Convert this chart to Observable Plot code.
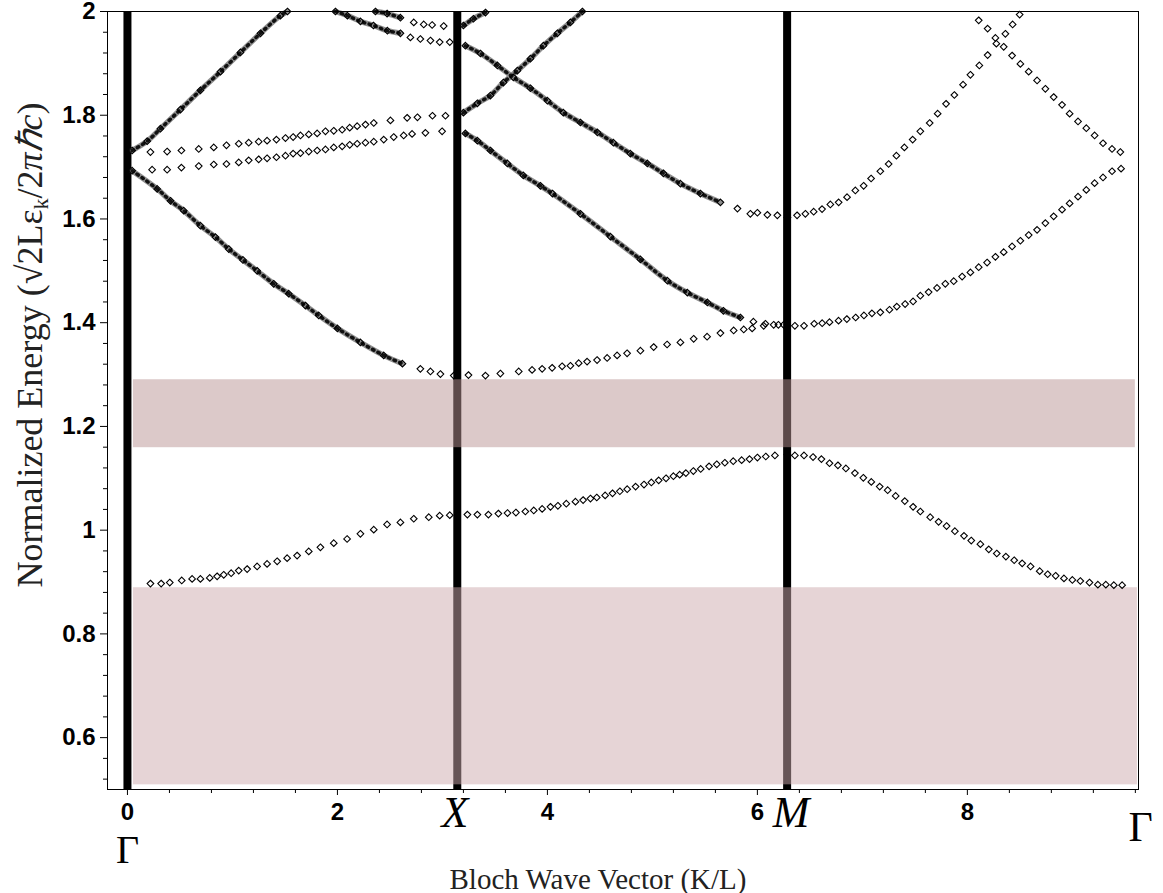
<!DOCTYPE html>
<html><head><meta charset="utf-8">
<script src="https://cdn.jsdelivr.net/npm/d3@7"></script>
<script src="https://cdn.jsdelivr.net/npm/@observablehq/plot@0.6"></script>
<style>body{margin:0;background:#fff} svg{display:block}</style>
</head><body><div id="chart"></div>
<script>
// ---- data: [k, normalized energy] ----
// Gamma - X
const gxRise = [[0.045,1.732],[0.188,1.750],[0.314,1.774],[0.505,1.811],[0.695,1.848],[0.886,1.884],[1.076,1.921],[1.267,1.958],[1.457,1.992],[1.524,2.0]];
const gxDesc = [[0.045,1.693],[0.283,1.658],[0.410,1.635],[0.536,1.616],[0.695,1.587],[0.838,1.565],[0.965,1.542],[1.10,1.521],[1.235,1.500],[1.393,1.475],[1.536,1.456],[1.695,1.433],[1.822,1.414],[2.0,1.389],[2.219,1.362],[2.441,1.337],[2.619,1.321],[2.790,1.311],[2.886,1.306],[2.981,1.301],[3.108,1.298]];
const gxTopA = [[1.981,2.0],[2.095,1.992],[2.219,1.981],[2.343,1.973],[2.476,1.963],[2.6,1.958],[2.695,1.950],[2.790,1.947],[2.886,1.944],[2.974,1.941],[3.070,1.941]];
const gxTopB = [[2.362,2.0],[2.473,1.996],[2.6,1.988],[2.727,1.979],[2.822,1.975],[2.902,1.974],[3.012,1.972]];
const gxFlatA = [[0.219,1.729],[0.378,1.730],[0.514,1.732],[0.679,1.735],[0.822,1.738],[0.943,1.742],[1.060,1.745],[1.155,1.747],[1.250,1.749],[1.330,1.751],[1.419,1.753],[1.505,1.756],[1.578,1.758],[1.648,1.761],[1.727,1.763],[1.807,1.765],[1.886,1.769],[1.965,1.770],[2.045,1.772],[2.117,1.776],[2.188,1.779],[2.267,1.782],[2.346,1.785],[2.505,1.790],[2.664,1.795],[2.762,1.796],[2.905,1.799],[3.029,1.799]];
const gxFlatB = [[0.235,1.695],[0.378,1.695],[0.514,1.699],[0.679,1.702],[0.822,1.705],[0.943,1.706],[1.060,1.709],[1.155,1.713],[1.250,1.715],[1.330,1.717],[1.419,1.719],[1.505,1.722],[1.578,1.726],[1.648,1.727],[1.727,1.730],[1.807,1.732],[1.886,1.734],[1.965,1.738],[2.045,1.740],[2.117,1.743],[2.188,1.745],[2.267,1.747],[2.346,1.749],[2.441,1.753],[2.536,1.758],[2.631,1.761],[2.711,1.764],[2.838,1.766],[2.997,1.769]];
const gxLow = [[0.219,0.897],[0.321,0.897],[0.403,0.899],[0.517,0.903],[0.616,0.906],[0.695,0.906],[0.784,0.908],[0.854,0.911],[0.917,0.914],[0.988,0.917],[1.060,0.922],[1.140,0.925],[1.235,0.930],[1.330,0.935],[1.426,0.940],[1.521,0.946],[1.616,0.951],[1.727,0.959],[1.838,0.967],[1.965,0.975],[2.092,0.983],[2.219,0.993],[2.346,1.001],[2.473,1.011],[2.600,1.015],[2.727,1.022],[2.870,1.025],[2.974,1.028],[3.070,1.029]];
// X - M
const xmUpA = [[3.2,1.805],[3.333,1.823],[3.457,1.838],[3.581,1.863],[3.714,1.886],[3.838,1.909],[3.962,1.934],[4.095,1.958],[4.219,1.979],[4.333,2.0]];
const xmUpB = [[3.2,1.973],[3.295,1.986],[3.410,1.998]];
const xmDescC = [[3.219,1.934],[3.362,1.919],[3.524,1.896],[3.676,1.873],[3.838,1.852],[4.0,1.828],[4.152,1.805],[4.314,1.786],[4.476,1.767],[4.629,1.747],[4.790,1.726],[4.952,1.707],[5.105,1.688],[5.267,1.668],[5.457,1.649],[5.648,1.632],[5.810,1.620],[5.933,1.610],[6.0,1.612],[6.095,1.608],[6.190,1.607],[6.286,1.603]];
const xmDescB = [[3.219,1.765],[3.333,1.751],[3.457,1.732],[3.619,1.707],[3.771,1.684],[3.933,1.664],[4.048,1.649],[4.314,1.610],[4.600,1.566],[4.886,1.522],[5.143,1.481],[5.333,1.458],[5.524,1.439],[5.676,1.423],[5.838,1.410],[5.962,1.402],[6.076,1.398],[6.200,1.396]];
const xmRise = [[3.248,1.299],[3.410,1.298],[3.552,1.302],[3.727,1.306],[3.854,1.309],[3.950,1.311],[4.045,1.313],[4.140,1.316],[4.219,1.317],[4.298,1.322],[4.378,1.325],[4.473,1.328],[4.569,1.332],[4.664,1.337],[4.759,1.341],[4.886,1.346],[5.012,1.353],[5.140,1.358],[5.267,1.362],[5.393,1.369],[5.521,1.373],[5.648,1.380],[5.774,1.385],[5.870,1.387],[5.950,1.389],[6.060,1.394],[6.155,1.396],[6.250,1.396]];
const xmLow = [[3.238,1.030],[3.333,1.030],[3.438,1.030],[3.533,1.032],[3.62,1.033],[3.70,1.034],[3.790,1.036],[3.87,1.038],[3.95,1.041],[4.029,1.045],[4.10,1.047],[4.18,1.051],[4.267,1.055],[4.34,1.058],[4.41,1.061],[4.470,1.063],[4.55,1.067],[4.62,1.071],[4.69,1.075],[4.76,1.079],[4.84,1.084],[4.920,1.088],[4.99,1.092],[5.06,1.096],[5.13,1.100],[5.20,1.104],[5.26,1.107],[5.319,1.110],[5.39,1.114],[5.46,1.118],[5.54,1.123],[5.613,1.127],[5.69,1.130],[5.77,1.133],[5.85,1.135],[5.925,1.137],[6.00,1.140],[6.08,1.142],[6.167,1.144],[6.286,1.146]];
// M - Gamma
const mgUp = [[6.378,1.607],[6.457,1.610],[6.536,1.614],[6.616,1.619],[6.695,1.628],[6.774,1.632],[6.854,1.642],[6.933,1.655],[7.012,1.664],[7.083,1.678],[7.171,1.692],[7.250,1.706],[7.324,1.722],[7.400,1.738],[7.479,1.753],[7.552,1.769],[7.641,1.785],[7.717,1.803],[7.797,1.822],[7.876,1.839],[7.959,1.859],[8.029,1.878],[8.114,1.896],[8.193,1.916],[8.276,1.938],[8.362,1.957],[8.431,1.975],[8.498,1.994]];
const mgDown = [[8.108,1.983],[8.193,1.967],[8.267,1.949],[8.346,1.932],[8.426,1.915],[8.505,1.899],[8.584,1.884],[8.664,1.867],[8.743,1.851],[8.822,1.835],[8.902,1.820],[8.974,1.803],[9.054,1.788],[9.133,1.775],[9.212,1.761],[9.292,1.746],[9.378,1.735],[9.457,1.729]];
const mgMid = [[6.357,1.394],[6.444,1.394],[6.541,1.398],[6.617,1.399],[6.687,1.401],[6.773,1.404],[6.852,1.407],[6.936,1.410],[7.015,1.414],[7.091,1.418],[7.171,1.420],[7.258,1.425],[7.328,1.431],[7.407,1.436],[7.483,1.441],[7.552,1.452],[7.631,1.459],[7.711,1.467],[7.790,1.475],[7.870,1.480],[7.950,1.489],[8.029,1.497],[8.108,1.507],[8.188,1.516],[8.267,1.527],[8.346,1.536],[8.426,1.547],[8.505,1.558],[8.584,1.569],[8.664,1.579],[8.743,1.592],[8.822,1.605],[8.902,1.618],[8.974,1.630],[9.054,1.643],[9.133,1.656],[9.212,1.669],[9.292,1.680],[9.378,1.692],[9.464,1.697]];
const mgLow = [[6.357,1.144],[6.444,1.144],[6.530,1.141],[6.610,1.137],[6.687,1.129],[6.767,1.125],[6.843,1.119],[6.929,1.110],[7.009,1.101],[7.085,1.093],[7.165,1.084],[7.241,1.077],[7.317,1.066],[7.404,1.056],[7.483,1.045],[7.552,1.036],[7.646,1.025],[7.726,1.016],[7.802,1.008],[7.881,0.998],[7.968,0.989],[8.037,0.980],[8.124,0.973],[8.204,0.963],[8.280,0.955],[8.367,0.949],[8.446,0.942],[8.522,0.936],[8.602,0.930],[8.689,0.921],[8.765,0.915],[8.841,0.912],[8.920,0.907],[9.000,0.904],[9.076,0.902],[9.163,0.899],[9.243,0.895],[9.319,0.895],[9.395,0.894],[9.474,0.894]];

// curves drawn as dense chains (k range where the markers overlap)
const denseParts = [
  {pts: gxRise, from: 0, to: 1.6},
  {pts: gxDesc, from: 0, to: 2.7},
  {pts: gxTopA, from: 1.9, to: 2.6},
  {pts: gxTopB, from: 2.3, to: 2.6},
  {pts: xmUpA, from: 3.1, to: 4.4},
  {pts: xmUpB, from: 3.1, to: 3.5},
  {pts: xmDescC, from: 3.1, to: 5.8},
  {pts: xmDescB, from: 3.1, to: 5.9}
];
const allCurves = [gxRise, gxDesc, gxTopA, gxTopB, gxFlatA, gxFlatB, gxLow, xmUpA, xmUpB, xmDescC, xmDescB, xmRise, xmLow, mgUp, mgDown, mgMid, mgLow];

// photonic band gaps
const gapUpper = [{k1: 0.057, k2: 9.60, e1: 1.159, e2: 1.290}];
const gapLower = [{k1: 0.057, k2: 9.62, e1: 0.509, e2: 0.889}];

// symmetry points
const symLines = [0, Math.PI, 2 * Math.PI];
const symLabels = [
  {k: 0, label: "Γ"},
  {k: 3.12, label: "X"},
  {k: 6.32, label: "M"},
  {k: 9.65, label: "Γ"}
];

// ticks
const xMajor = [0, 2, 4, 6, 8];
const yMajor = [0.6, 0.8, 1, 1.2, 1.4, 1.6, 1.8, 2];
const xMinor = d3.range(0.4, 9.7, 0.4).filter(v => Math.abs(v / 2 - Math.round(v / 2)) > 1e-6);
const yMinor = d3.range(0.52, 1.99, 0.04).filter(v => Math.abs(v * 5 - Math.round(v * 5)) > 1e-6);

const allPts = allCurves.flat();
const serif = "'Liberation Serif', 'Times New Roman', serif";
const sans = "'Liberation Sans', Arial, sans-serif";

const chart = Plot.plot({
  width: 1163, height: 893,
  marginLeft: 107, marginRight: 25, marginTop: 11, marginBottom: 104,
  x: {domain: [-0.19, 9.63]},
  y: {domain: [0.5, 2.0]},
  style: {fontFamily: sans, fontSize: "24px", background: "#fff", color: "#000", overflow: "visible"},
  marks: [
    Plot.ruleX(symLines, {x: d => d, y1: 0.5, y2: 2.0, stroke: "#000", strokeWidth: 8}),
    Plot.rect(gapUpper, {x1: "k1", x2: "k2", y1: "e1", y2: "e2", fill: "#b99494", fillOpacity: 0.5}),
    Plot.rect(gapLower, {x1: "k1", x2: "k2", y1: "e1", y2: "e2", fill: "#cda9ad", fillOpacity: 0.5}),
    ...denseParts.map(p => Plot.line(p.pts.filter(d => d[0] >= p.from && d[0] <= p.to), {x: d => d[0], y: d => d[1], curve: "catmull-rom", stroke: "#8f8f8f", strokeWidth: 5.5})),
    ...denseParts.map(p => Plot.line(p.pts.filter(d => d[0] >= p.from && d[0] <= p.to), {x: d => d[0], y: d => d[1], curve: "catmull-rom", stroke: "#111", strokeWidth: 3.5, strokeDasharray: "1.5,4.5"})),
    Plot.dot(allPts, {x: d => d[0], y: d => d[1], symbol: "diamond2", r: 3, stroke: "#000", strokeWidth: 1.1, fill: "none"}),
    Plot.frame({stroke: "#000", strokeWidth: 1}),
    Plot.axisY(yMajor, {tickSize: 7, tickPadding: 5, tickFormat: d => String(d), label: null}),
    Plot.axisY(yMinor, {tickSize: 4, tickFormat: () => "", label: null}),
    Plot.axisX(xMajor, {tickSize: 6, tickPadding: 7, tickFormat: d => String(d), label: null}),
    Plot.axisX(xMinor, {tickSize: 4, tickFormat: () => "", label: null}),
    Plot.text(symLabels.slice(0, 1), {x: "k", text: "label", frameAnchor: "bottom", dy: 73, lineAnchor: "bottom", fontFamily: serif, fontSize: 40, fontWeight: "normal"}),
    Plot.text(symLabels.slice(1, 3), {x: "k", text: "label", frameAnchor: "bottom", dy: 37, lineAnchor: "bottom", fontFamily: serif, fontSize: 44, fontWeight: "normal", fontStyle: "italic"}),
    Plot.text(symLabels.slice(3), {x: "k", text: "label", frameAnchor: "bottom", dy: 51, lineAnchor: "bottom", fontFamily: serif, fontSize: 42, fontWeight: "normal"})
  ]
});
document.getElementById("chart").appendChild(chart);

const svg = d3.select(chart);
// tick label font (bold sans, as in the picture)
svg.selectAll('g[aria-label="x-axis tick label"], g[aria-label="y-axis tick label"]')
  .attr("font-size", 24).attr("font-weight", "bold").attr("font-family", sans)
  .style("font-size", "24px").style("font-weight", "bold");

// axis titles
svg.append("text")
  .attr("x", 598).attr("y", 889)
  .attr("text-anchor", "middle")
  .style("font-family", serif).style("font-size", "29px").style("font-weight", "normal")
  .attr("fill", "#222")
  .text("Bloch Wave Vector (K/L)");
const yl = svg.append("text")
  .attr("transform", "translate(42,345) rotate(-90)")
  .attr("text-anchor", "middle")
  .style("font-family", serif).style("font-size", "36px").style("font-weight", "normal")
  .attr("fill", "#222");
yl.append("tspan").text("Normalized Energy (√2Lε");
yl.append("tspan").attr("dy", 6).style("font-size", "22px").text("k");
yl.append("tspan").attr("dy", -6).text("/2");
yl.append("tspan").style("font-style", "italic").text("πℏc");
yl.append("tspan").text(")");
</script>
</body></html>
